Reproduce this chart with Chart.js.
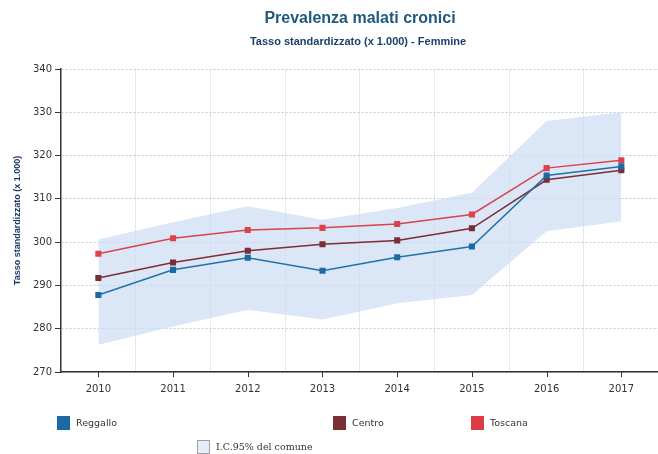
<!DOCTYPE html>
<html><head><meta charset="utf-8">
<script src="https://cdn.jsdelivr.net/npm/chart.js@4"></script>
<style>
html,body{margin:0;padding:0;overflow:hidden;background:#fff;width:658px;height:454px}
#wrap{position:absolute;left:0;top:0;width:663px;height:454px}
</style>
</head><body>
<div id="wrap"><canvas id="c" width="663" height="454"></canvas></div>
<script>
const years = ['2010','2011','2012','2013','2014','2015','2016','2017'];
const reggallo = [287.8, 293.6, 296.4, 293.4, 296.5, 299.0, 315.4, 317.5];
const centro   = [291.7, 295.3, 298.0, 299.5, 300.4, 303.2, 314.4, 316.6];
const toscana  = [297.3, 300.9, 302.8, 303.3, 304.2, 306.4, 317.1, 318.9];
const icUpper  = [300.6, 304.6, 308.3, 305.2, 307.9, 311.4, 328.0, 330.0];
const icLower  = [276.3, 280.5, 284.4, 282.1, 285.9, 287.8, 302.5, 304.8];
const yMin = 270, yMax = 340, yStep = 10;

const titleText = 'Prevalenza malati cronici';
const subtitleText = 'Tasso standardizzato (x 1.000) - Femmine';
const yTitle = 'Tasso standardizzato (x 1.000)';
const legendItems = [
  {label:'Reggallo', color:'#1c6aa4', x:57, y:416},
  {label:'Centro', color:'#7b2e36', x:333, y:416},
  {label:'Toscana', color:'#de3b46', x:471, y:416},
  {label:'I.C.95% del comune', color:'#e6ecf8', border:'#9aa0aa', x:197, y:440, serif:true}
];

const overlay = {
  id:'overlay',
  afterDraw(chart){
    const ctx = chart.ctx;
    const xs = chart.scales.x;
    const bottom = chart.chartArea.bottom;
    ctx.save();
    ctx.strokeStyle = '#333'; ctx.lineWidth = 1;
    years.forEach((y,i)=>{
      const px = Math.round(xs.getPixelForValue(i)) + 0.5;
      ctx.beginPath(); ctx.moveTo(px, bottom); ctx.lineTo(px, bottom + 5); ctx.stroke();
    });
    ctx.textAlign = 'center'; ctx.textBaseline = 'middle';
    ctx.fillStyle = '#1d5a7f';
    ctx.font = 'bold 16px "Liberation Sans"';
    ctx.fillText(titleText, 360, 19);
    ctx.fillStyle = '#1a406b';
    ctx.font = 'bold 11px "Liberation Sans"';
    ctx.fillText(subtitleText, 358, 42);
    ctx.textAlign = 'left';
    legendItems.forEach(it=>{
      ctx.fillStyle = it.color;
      ctx.fillRect(it.x, it.y, 13, 14);
      if (it.border){ ctx.strokeStyle = it.border; ctx.lineWidth = 1; ctx.strokeRect(it.x+0.5, it.y+0.5, 12, 13); }
      ctx.fillStyle = '#333';
      ctx.font = it.serif ? '9.5px "DejaVu Serif"' : '9.5px "DejaVu Sans"';
      ctx.fillText(it.label, it.x + 19, it.y + 7.5);
    });
    ctx.restore();
  }
};

new Chart(document.getElementById('c'), {
  type:'line',
  data:{
    labels: years,
    datasets:[
      {label:'IC low', data: icLower, borderWidth:0, pointRadius:0, fill:false, borderColor:'rgba(0,0,0,0)', tension:0},
      {label:'IC high', data: icUpper, borderWidth:0, pointRadius:0, fill:'-1', backgroundColor:'rgba(205,220,243,0.72)', borderColor:'rgba(0,0,0,0)', tension:0},
      {label:'Reggallo', data: reggallo, borderColor:'#2470a8', backgroundColor:'#1c6aa4', borderWidth:1.5, pointStyle:'rect', pointRadius:4.3, pointBorderWidth:0, fill:false, tension:0},
      {label:'Centro', data: centro, borderColor:'#7b2e36', backgroundColor:'#7b2e36', borderWidth:1.5, pointStyle:'rect', pointRadius:4.3, pointBorderWidth:0, fill:false, tension:0},
      {label:'Toscana', data: toscana, borderColor:'#d9434c', backgroundColor:'#d9434c', borderWidth:1.5, pointStyle:'rect', pointRadius:4.3, pointBorderWidth:0, fill:false, tension:0}
    ]
  },
  options:{
    responsive:false, animation:false, devicePixelRatio:1,
    layout:{padding:{top:69, left:0, right:0, bottom:0}},
    plugins:{legend:{display:false}, tooltip:{enabled:false}, title:{display:false}, filler:{drawTime:'beforeDatasetsDraw'}},
    scales:{
      x:{
        offset:true,
        grid:{offset:true, color:'#e4e8f0', lineWidth:1, drawTicks:false},
        border:{display:true, color:'#333', width:1.5},
        ticks:{color:'#333', font:{family:'DejaVu Sans', size:10}, padding:11, maxRotation:0, autoSkip:false},
        afterFit(s){ s.height = 82; }
      },
      y:{
        min:yMin, max:yMax,
        grid:{color:'#c4c9d2', lineWidth:1, drawTicks:true, tickLength:6, tickColor:'#333', tickWidth:1},
        border:{display:true, color:'#333', width:1.5, dash:[2,2]},
        ticks:{stepSize:yStep, color:'#333', font:{family:'DejaVu Sans', size:10}, padding:3},
        title:{display:true, text:yTitle, color:'#1b3a66', font:{family:'Liberation Sans', size:9, weight:'bold'}, padding:{top:12,bottom:0}},
        afterFit(s){ s.width = 61; }
      }
    }
  },
  plugins:[overlay]
});
</script>
</body></html>
